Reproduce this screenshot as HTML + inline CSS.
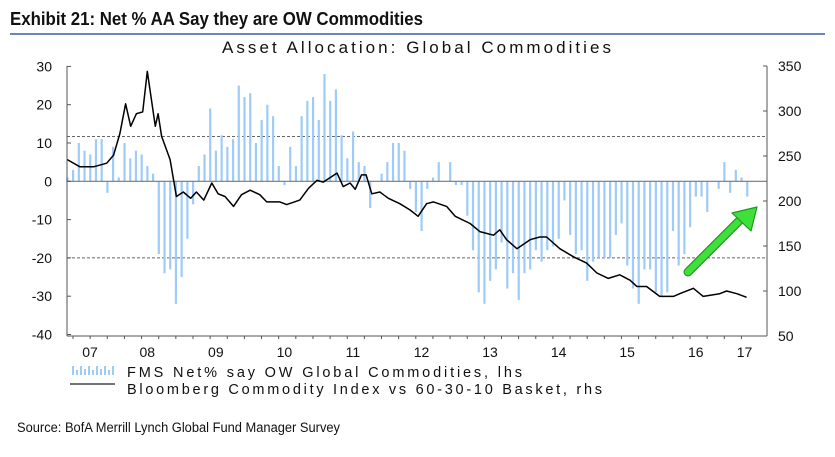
<!DOCTYPE html>
<html><head><meta charset="utf-8"><style>
body{margin:0;background:#fff}
svg{display:block}
text{font-family:"Liberation Sans",sans-serif;fill:#111}
</style></head><body>
<svg id="c" width="835" height="457" viewBox="0 0 835 457">
<text x="10" y="25" font-size="18" font-weight="bold" textLength="413" lengthAdjust="spacingAndGlyphs">Exhibit 21: Net % AA Say they are OW Commodities</text>
<rect x="10" y="33" width="815" height="2" fill="#6a86b4"/>
<text x="222" y="53" font-size="17" textLength="389" lengthAdjust="spacing">Asset Allocation: Global Commodities</text>
<g id="plot"></g>
<g id="axes"></g>
<g>
<g fill="#9ecbf7">
<rect x="72" y="366" width="2" height="9"/><rect x="76" y="370" width="2" height="5"/><rect x="80" y="366" width="2" height="9"/><rect x="84" y="369" width="2" height="6"/><rect x="88" y="366" width="2" height="9"/><rect x="92" y="370" width="2" height="5"/><rect x="96" y="366" width="2" height="9"/><rect x="100" y="369" width="2" height="6"/><rect x="104" y="366" width="2" height="9"/><rect x="108" y="370" width="2" height="5"/><rect x="112" y="366" width="2" height="9"/>
</g>
<text x="127" y="377" font-size="14.5" textLength="395" lengthAdjust="spacing">FMS Net% say OW Global Commodities, lhs</text>
<line x1="70" y1="384" x2="115" y2="384" stroke="#222" stroke-width="1.2"/>
<text x="127" y="394" font-size="14.5" textLength="475" lengthAdjust="spacing">Bloomberg Commodity Index vs 60-30-10 Basket, rhs</text>
</g>
<text x="17" y="432" font-size="13.5" textLength="323" lengthAdjust="spacingAndGlyphs">Source: BofA Merrill Lynch Global Fund Manager Survey</text>
<g>
<line x1="688" y1="272" x2="742" y2="218" stroke="#1f9a1f" stroke-width="9" stroke-linecap="round"/>
<line x1="688" y1="272" x2="742" y2="218" stroke="#3fe03a" stroke-width="6.5" stroke-linecap="round"/>
<polygon points="757,207 732,213 751,231" fill="#3fe03a" stroke="#1f9a1f" stroke-width="1.2" stroke-linejoin="round"/>
</g>
</svg>
<script>
const fmsValues=[1,3,10,8,7,11,11,-3,9,1,10,6,8,7,4,2,-19,-24,-23,-32,-25,-15,-6,4,7,19,8,12,9,11,25,22,23,10,16,20,17,4,-1,9,4,17,21,22,16,28,21,24,12,6,13,5,4,-7,0,2,5,10,10,8,-2,-8,-13,-2,1,5,0,5,-1,-1,-9,-18,-29,-32,-26,-23,-16,-28,-24,-31,-24,-23,-18,-21,-18,-17,-15,-5,-14,-19,-18,-26,-21,-20,-20,-20,-14,-11,-22,-28,-32,-23,-23,-29,-30,-29,-13,-22,-19,-12,-4,-4,-8,0,-2,5,-3,3,1,-4];
const lineMonths=[0,2.2,4.6,6.9,8.1,9.2,10.2,11.1,12.1,13.2,14,15.4,15.9,16.5,18,19.1,20.3,21.6,22.6,23.9,25.3,26.4,27.6,29.1,30.5,32,33.7,34.9,37.2,38.4,40.7,42.2,43.7,44.8,47.2,48.3,49.5,50.4,51.5,52.3,53.3,54.7,56.2,58.2,60,61.4,62.9,64.1,66.4,67.9,70.5,72.2,74.6,75.7,76.9,78.7,81,82.7,83.9,86.2,88.6,90.9,92.7,94.7,96.7,98.5,99.7,101.4,103.7,106.1,107.2,109.6,111.3,114.2,115.4,117.2,118.9];
const lineValues=[246,238,238,242,251,275,308,283,297,299,344,283,297,272,246,205,210,203,210,201,220,208,205,194,207,212,207,199,199,196,201,214,223,221,231,216,220,213,229,229,208,210,203,197,190,183,197,199,194,183,175,166,162,168,157,147,157,160,160,147,138,131,120,114,118,112,105,105,94,94,97,103,94,97,100,97,93];
const leftTicks=[30,20,10,0,-10,-20,-30,-40];
const rightTicks=[350,300,250,200,150,100,50];
const yearLabels=["07","08","09","10","11","12","13","14","15","16","17"];
const dashedLevels=[11.7,-20];

const NS="http://www.w3.org/2000/svg";
const X0=67.3, MW=5.713, L=67, R=767;
const xM=m=>X0+m*MW;
const yL=v=>181.3-v*3.83;
const yR=v=>336-(v-50)*0.9;
function mk(tag,attrs,parent){const e=document.createElementNS(NS,tag);for(const k in attrs)e.setAttribute(k,attrs[k]);parent.appendChild(e);return e;}
const plot=document.getElementById('plot'), axes=document.getElementById('axes');

dashedLevels.forEach(v=>{
  const g=mk('line',{x1:L,x2:R,y1:yL(v),y2:yL(v),stroke:'#666','stroke-width':1,'stroke-dasharray':'3,2'},plot);
  
  
});
fmsValues.forEach((v,i)=>{
  const y0=yL(0), y1=yL(v);
  const b=mk('rect',{x:xM(i)-1,y:Math.min(y0,y1),width:2.2,height:Math.abs(y1-y0),fill:'#9ecbf7'},plot);
  
  
});
const z=mk('line',{x1:L,x2:R,y1:yL(0),y2:yL(0),stroke:'#777','stroke-width':1.2},plot);


const pts=lineMonths.map((m,i)=>xM(m).toFixed(1)+','+yR(lineValues[i]).toFixed(1)).join(' ');
const pl=mk('polyline',{points:pts,fill:'none',stroke:'#000','stroke-width':1.5,'stroke-linejoin':'round'},plot);



mk('line',{x1:L,x2:L,y1:66,y2:336,stroke:'#555','stroke-width':1},axes);
mk('line',{x1:R,x2:R,y1:66,y2:336,stroke:'#555','stroke-width':1},axes);
mk('line',{x1:L,x2:R,y1:336,y2:336,stroke:'#555','stroke-width':1},axes);
leftTicks.forEach(v=>{
  mk('line',{x1:L,x2:L+4,y1:yL(v),y2:yL(v),stroke:'#555'},axes);
  const t=mk('text',{x:52,y:yL(v)+5,'font-size':14,'text-anchor':'end'},axes);
  t.textContent=v;
  
  
});
rightTicks.forEach(v=>{
  mk('line',{x1:R-4,x2:R,y1:yR(v),y2:yR(v),stroke:'#555'},axes);
  const t=mk('text',{x:778,y:yR(v)+5,'font-size':14},axes);
  t.textContent=v;
  
  
});
for(let q=-8;q<=120;q+=3){
  const x=xM(q); if(x<L||x>R) continue;
  const major=((q+4)%12===0);
  mk('line',{x1:x,x2:x,y1:336,y2:major?341:339,stroke:'#555'},axes);
}
yearLabels.forEach((s,i)=>{
  let cx=i===0?(L+xM(8))/2:xM(8+12*(i-1)+6);
  if(i===yearLabels.length-1) cx=(xM(116)+R)/2-4;
  const t=mk('text',{x:cx,y:357,'font-size':14,'text-anchor':'middle'},axes);
  t.textContent=s;
  
  
});
</script>
</body></html>
